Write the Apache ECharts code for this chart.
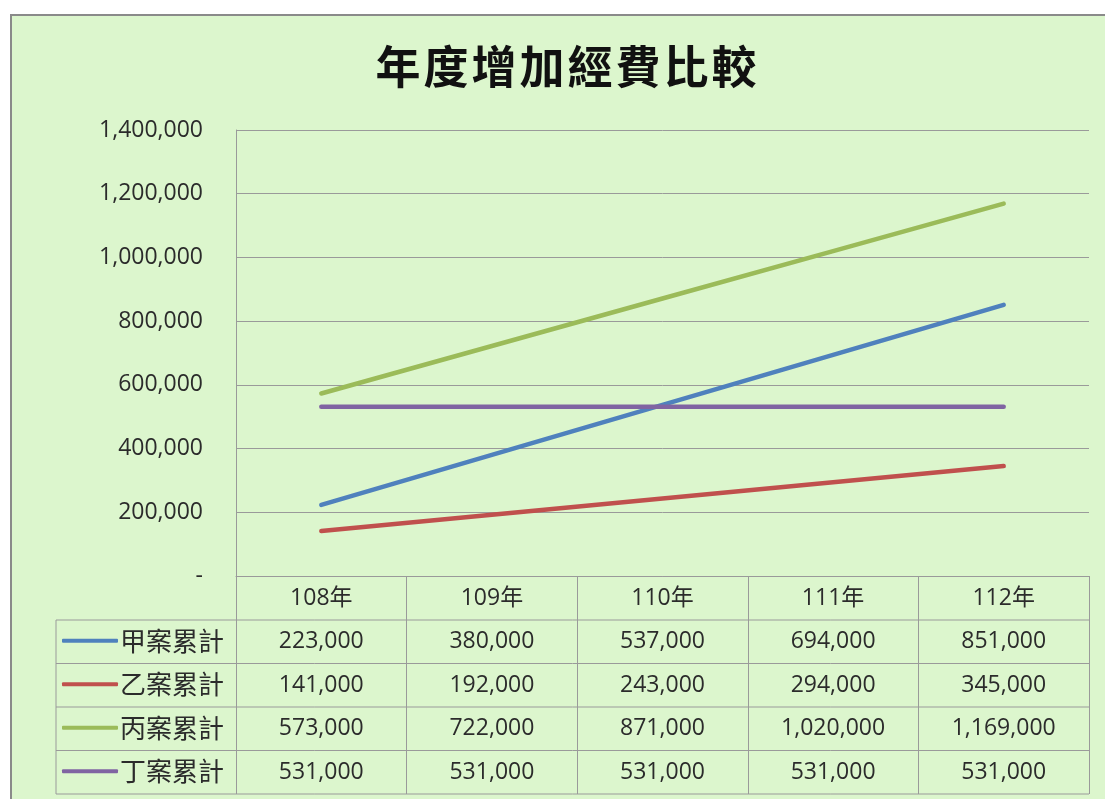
<!DOCTYPE html>
<html>
<head>
<meta charset="utf-8">
<title>年度增加經費比較</title>
<script src="https://cdn.jsdelivr.net/npm/echarts@6/dist/echarts.min.js"></script>
<style>
  html, body { margin: 0; padding: 0; background: #fff; }
  #main { width: 1105px; height: 799px; }
</style>
</head>
<body>
<div id="main"></div>
<script>
// data
var titleText = '年度增加經費比較';
var years = ['108年', '109年', '110年', '111年', '112年'];
var seriesNames = ['甲案累計', '乙案累計', '丙案累計', '丁案累計'];
var caseA = [223000, 380000, 537000, 694000, 851000];
var caseB = [141000, 192000, 243000, 294000, 345000];
var caseC = [573000, 722000, 871000, 1020000, 1169000];
var caseD = [531000, 531000, 531000, 531000, 531000];
var yTicks = [0, 200000, 400000, 600000, 800000, 1000000, 1200000, 1400000];

var allValues = [caseA, caseB, caseC, caseD];
var colors = ['#4f81bd', '#c0504d', '#9bbb59', '#8064a2'];

var numFont = 'Open Sans';
var cjkFont = 'Noto Sans CJK TC';
var gridColor = '#9a9a9a';
var textColor = '#2b2b2b';

// plot / table geometry (pixels)
var plotLeft = 236, plotRight = 1089, plotTop = 130, plotBottom = 576;
var tableLeft = 56;
var rowH = 43.5;
var headerH = 44;

function fmt(v) {
  return v === 0 ? '-' : v.toLocaleString('en-US');
}

var chart = echarts.init(document.getElementById('main'), null, { renderer: 'canvas' });

// category axis for the header row, plus one line-less axis per data-table row
var xAxes = [{
  type: 'category',
  data: years,
  boundaryGap: true,
  axisLine: { show: true, lineStyle: { color: gridColor, width: 1 } },
  axisTick: {
    show: true,
    length: headerH + rowH * 4,
    lineStyle: { color: gridColor, width: 1 }
  },
  axisLabel: {
    interval: 0,
    margin: headerH / 2,
    verticalAlign: 'middle',
    color: textColor,
    fontFamily: numFont + ', ' + cjkFont,
    fontSize: 23
  },
  splitLine: { show: false }
}];
allValues.forEach(function (vals, i) {
  xAxes.push({
    type: 'category',
    data: vals.map(fmt),
    position: 'bottom',
    offset: headerH / 2 + rowH * i + rowH / 2,
    axisLine: { show: false },
    axisTick: { show: false },
    axisLabel: {
      interval: 0,
      margin: headerH / 2,
      verticalAlign: 'middle',
      color: textColor,
      fontFamily: numFont,
      fontSize: 23
    },
    splitLine: { show: false }
  });
});

// table horizontal lines that run into the legend column
var tableLines = [];
for (var r = 0; r <= 4; r++) {
  var y = plotBottom + headerH + rowH * r;
  tableLines.push({
    type: 'line',
    shape: { x1: tableLeft, y1: y, x2: plotRight, y2: y },
    style: { stroke: gridColor, lineWidth: 1 },
    silent: true
  });
}
tableLines.push({
  type: 'line',
  shape: { x1: tableLeft, y1: plotBottom + headerH, x2: tableLeft, y2: plotBottom + headerH + rowH * 4 },
  style: { stroke: gridColor, lineWidth: 1 },
  silent: true
});

var option = {
  backgroundColor: '#ffffff',
  animation: false,
  color: colors,
  title: {
    // each character in a fixed-width box, to get the wide letter spacing
    text: titleText.split('').map(function (c) { return '{c|' + c + '}'; }).join(''),
    left: 561,
    top: 39,
    textAlign: 'center',
    textStyle: {
      rich: {
        c: {
          width: 48,
          align: 'center',
          fontFamily: cjkFont,
          fontSize: 45,
          fontWeight: 'bold',
          color: '#111'
        }
      }
    }
  },
  graphic: [{
    type: 'rect',
    z: -10,
    shape: { x: 11, y: 15, width: 1120, height: 820 },
    style: { fill: '#dcf6cd', stroke: '#8a8a8a', lineWidth: 2 },
    silent: true
  }].concat(tableLines),
  legend: {
    orient: 'vertical',
    left: 62,
    top: plotBottom + headerH + rowH / 2 - 14,
    padding: 0,
    icon: 'roundRect',
    itemWidth: 56,
    itemHeight: 4,
    itemGap: rowH - 26,
    data: seriesNames,
    textStyle: {
      fontFamily: cjkFont,
      fontSize: 26,
      lineHeight: 26,
      color: textColor,
      padding: [0, 0, 0, -3]
    }
  },
  grid: {
    left: plotLeft,
    right: 1105 - plotRight,
    top: plotTop,
    bottom: 799 - plotBottom,
    containLabel: false
  },
  xAxis: xAxes,
  yAxis: {
    type: 'value',
    min: yTicks[0],
    max: yTicks[yTicks.length - 1],
    interval: yTicks[1] - yTicks[0],
    axisLine: { show: true, lineStyle: { color: gridColor, width: 1 } },
    axisTick: { show: false },
    axisLabel: {
      margin: 33,
      color: textColor,
      fontFamily: numFont,
      fontSize: 23,
      formatter: fmt
    },
    splitLine: { show: true, lineStyle: { color: gridColor, width: 1 } }
  },
  series: allValues.map(function (vals, i) {
    return {
      name: seriesNames[i],
      type: 'line',
      data: vals,
      xAxisIndex: 0,
      showSymbol: false,
      symbol: 'none',
      lineStyle: { width: 4.5, color: colors[i], cap: 'round' },
      itemStyle: { color: colors[i] }
    };
  })
};

chart.setOption(option);
</script>
</body>
</html>
